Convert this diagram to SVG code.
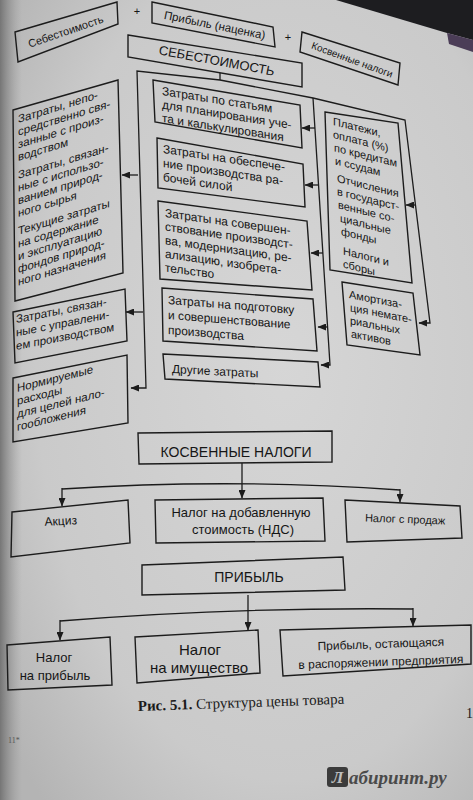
<svg xmlns="http://www.w3.org/2000/svg" width="473" height="800" viewBox="0 0 473 800">
<defs>
<radialGradient id="pg" cx="0.6" cy="0.45" r="0.75">
<stop offset="0" stop-color="#d6d6d6"/>
<stop offset="0.7" stop-color="#cacaca"/>
<stop offset="1" stop-color="#b4b4b4"/>
</radialGradient>
<linearGradient id="gut" x1="0" y1="0" x2="1" y2="0">
<stop offset="0" stop-color="#6e6e6e" stop-opacity="0.9"/>
<stop offset="1" stop-color="#9a9a9a" stop-opacity="0"/>
</linearGradient>
<marker id="ah" markerWidth="9" markerHeight="7" refX="8" refY="3.5" orient="auto" markerUnits="userSpaceOnUse">
<path d="M0,0 L8.5,3.5 L0,7 z" fill="#1c1c1c"/>
</marker>
<style>
.bx{fill:none;stroke:#1c1c1c;stroke-width:1.4;stroke-linejoin:miter}
.ln{fill:none;stroke:#1c1c1c;stroke-width:1.3}
.ar{fill:none;stroke:#1c1c1c;stroke-width:1.3;marker-end:url(#ah)}
.t{font-family:"Liberation Sans",Arial,sans-serif;fill:#161616}
.s11{font-size:11px}
.s115{font-size:11.5px}
.s12{font-size:12px}
.s13{font-size:13px}
.s14{font-size:14px}
.s15{font-size:15px}
.c{text-anchor:middle}
.cap{font-family:"Liberation Serif","Times New Roman",serif;fill:#1a1a1a;font-size:15px}
</style>
</defs>
<!-- page -->
<rect x="0" y="0" width="473" height="800" fill="url(#pg)"/>
<rect x="0" y="0" width="22" height="800" fill="url(#gut)"/>
<polygon points="336,0 473,0 473,40 447,33" fill="#1d1d20"/>
<polygon points="447,33 473,40 473,52 449,44" fill="#4b3d57"/>

<!-- top row -->
<g id="top-sebest">
<polygon class="bx" points="15,32 117,2 118,24 18,62"/>
<text class="t s11 c" x="67" y="35" transform="rotate(-19 67 35)">Себестоимость</text>
</g>
<text class="t s11 c" x="137" y="15">+</text>
<g id="top-pribyl">
<polygon class="bx" points="152,2 273,27 275,47 152,23"/>
<text class="t s115 c" x="214" y="29" transform="rotate(11.5 214 29)">Прибыль (наценка)</text>
</g>
<text class="t s11 c" x="288" y="41">+</text>
<g id="top-kosv">
<polygon class="bx" points="302,32 400,63 398,85 300,52"/>
<text class="t c" style="font-size:10px" x="351" y="63" transform="rotate(20 351 63)">Косвенные налоги</text>
</g>

<g id="sebestoimost">
<polygon class="bx" points="128,35 302,63 302,87 128,57"/>
<text class="t s13 c" x="216" y="65" transform="rotate(10.5 216 65)">СЕБЕСТОИМОСТЬ</text>
</g>

<!-- middle column -->
<g id="m1">
<polygon class="bx" points="153,80 300,105 302,148 155,122"/>
<g transform="translate(162,95) skewY(9)"><text class="t s12"><tspan x="0" y="0">Затраты по статьям</tspan><tspan x="0" y="13.5">для планирования уче-</tspan><tspan x="0" y="27">та и калькулирования</tspan></text></g>
</g>
<g id="m2">
<polygon class="bx" points="157,138 303,164 305,207 158,188"/>
<g transform="translate(163,153) skewY(8.5)"><text class="t s12"><tspan x="0" y="0">Затраты на обеспече-</tspan><tspan x="0" y="14">ние производства ра-</tspan><tspan x="0" y="28">бочей силой</tspan></text></g>
</g>
<g id="m3">
<polygon class="bx" points="158,201 307,221 312,290 160,279"/>
<g transform="translate(165,217) skewY(8)"><text class="t s12"><tspan x="0" y="0">Затраты на совершен-</tspan><tspan x="0" y="13.6">ствование производст-</tspan><tspan x="0" y="27.2">ва, модернизацию, ре-</tspan><tspan x="0" y="40.8">ализацию, изобрета-</tspan><tspan x="0" y="54.4">тельство</tspan></text></g>
</g>
<g id="m4">
<polygon class="bx" points="162,288 313,299 317,351 163,341"/>
<g transform="translate(168,304) skewY(4.5)"><text class="t s12"><tspan x="0" y="0">Затраты на подготовку</tspan><tspan x="0" y="15">и совершенствование</tspan><tspan x="0" y="30">производства</tspan></text></g>
</g>
<g id="m5">
<polygon class="bx" points="163,354 318,362 320,387 165,379"/>
<g transform="translate(172,373) skewY(3)"><text class="t s12" x="0" y="0">Другие затраты</text></g>
</g>

<!-- right column -->
<g id="r1">
<polygon class="bx" points="325,112 398,123 412,283 330,270"/>
<g transform="translate(333,125) skewY(14)"><text class="t s11"><tspan x="0" y="0">Платежи,</tspan><tspan x="0" y="13">оплата (%)</tspan><tspan x="1" y="26">по кредитам</tspan><tspan x="2" y="39">и ссудам</tspan><tspan x="4" y="56">Отчисления</tspan><tspan x="4" y="69">в государст-</tspan><tspan x="5" y="82">венные со-</tspan><tspan x="7" y="95">циальные</tspan><tspan x="8" y="108">фонды</tspan><tspan x="10" y="127">Налоги и</tspan><tspan x="10" y="140">сборы</tspan></text></g>
</g>
<g id="r2">
<polygon class="bx" points="342,282 413,293 420,355 347,345"/>
<g transform="translate(349,298) skewY(11)"><text class="t s11"><tspan x="0" y="0">Амортиза-</tspan><tspan x="1" y="13">ция немате-</tspan><tspan x="1" y="26">риальных</tspan><tspan x="2" y="39">активов</tspan></text></g>
</g>

<!-- left column -->
<g id="l1">
<polygon class="bx" points="13,110 118,80 123,273 15,301"/>
<g transform="translate(18,123) skewY(-17)"><text class="t s115"><tspan x="0" y="0">Затраты, непо-</tspan><tspan x="0" y="12.7">средственно свя-</tspan><tspan x="0" y="25.4">занные с произ-</tspan><tspan x="0" y="38.1">водством</tspan><tspan x="0" y="56">Затраты, связан-</tspan><tspan x="0" y="68.7">ные с использо-</tspan><tspan x="0" y="81.4">ванием природ-</tspan><tspan x="0" y="94.1">ного сырья</tspan><tspan x="0" y="112">Текущие затраты</tspan><tspan x="0" y="124.7">на содержание</tspan><tspan x="0" y="137.4">и эксплуатацию</tspan><tspan x="0" y="150.1">фондов природ-</tspan><tspan x="0" y="162.8">ного назначения</tspan></text></g>
</g>
<g id="l2">
<polygon class="bx" points="13,312 125,289 127,341 15,363"/>
<g transform="translate(16,323) skewY(-11)"><text class="t s115"><tspan x="0" y="0">Затраты, связан-</tspan><tspan x="0" y="13.5">ные с управлени-</tspan><tspan x="0" y="27">ем производством</tspan></text></g>
</g>
<g id="l3">
<polygon class="bx" points="13,378 127,355 128,423 13,442"/>
<g transform="translate(17,392) skewY(-14)"><text class="t s115"><tspan x="0" y="0">Нормируемые</tspan><tspan x="0" y="13">расходы</tspan><tspan x="0" y="26">для целей нало-</tspan><tspan x="0" y="39">гообложения</tspan></text></g>
</g>

<!-- lower part -->
<g id="kosv">
<polygon class="bx" points="138,433 332,431 332,462 139,464"/>
<text class="t s14 c" x="236" y="457">КОСВЕННЫЕ  НАЛОГИ</text>
</g>
<g id="akciz">
<polygon class="bx" points="12,512 128,500 130,543 11,557"/>
<text class="t s12 c" x="61" y="525" transform="rotate(-3 61 525)">Акциз</text>
</g>
<g id="nds">
<polygon class="bx" points="155,500 323,498 325,541 156,543"/>
<text class="t s13 c" x="241" y="517">Налог на добавленную</text>
<text class="t s13 c" x="243" y="534">стоимость (НДС)</text>
</g>
<g id="prodazh">
<polygon class="bx" points="345,500 460,506 462,538 347,542"/>
<text class="t s11 c" x="405" y="523" transform="rotate(2 405 523)">Налог с продаж</text>
</g>
<g id="pribyl">
<polygon class="bx" points="142,565 343,557 345,590 142,595"/>
<text class="t s14 c" x="249" y="582">ПРИБЫЛЬ</text>
</g>
<g id="p1">
<polygon class="bx" points="7,645 110,637 112,685 8,690"/>
<text class="t s13 c" x="54" y="662">Налог</text>
<text class="t s13 c" x="55" y="680">на прибыль</text>
</g>
<g id="p2">
<polygon class="bx" points="135,637 258,630 260,673 137,683"/>
<text class="t s15 c" x="200" y="655">Налог</text>
<text class="t s15 c" x="199" y="673">на имущество</text>
</g>
<g id="p3">
<polygon class="bx" points="280,630 471,625 471,664 283,676"/>
<text class="t s12 c" x="381" y="648" transform="rotate(-2 381 648)">Прибыль, остающаяся</text>
<text class="t s12 c" x="381" y="666" transform="rotate(-2 381 666)">в распоряжении предприятия</text>
</g>

<!-- connectors -->
<g id="connectors">
<path class="ln" d="M220,73 L220,80"/>
<path class="ar" d="M220,80 L137,71 L146,388 L131,388"/>
<path class="ar" d="M138,175 L122,175"/>
<path class="ar" d="M143,312 L126,312"/>
<path class="ar" d="M220,80 L313,98 L405,120 L430,323 L419,323"/>
<path class="ar" d="M415,205 L406,205"/>
<path class="ar" d="M313,98 L330,365 L321,365"/>
<path class="ar" d="M315,128 L302,128"/>
<path class="ar" d="M318,185 L305,185"/>
<path class="ar" d="M323,253 L311,253"/>
<path class="ar" d="M328,327 L318,327"/>
<path class="ar" d="M242,463 L242,498"/>
<path class="ln" d="M62,489 Q231,478 400,490"/>
<path class="ar" d="M62,488 L62,506"/>
<path class="ar" d="M400,489 L400,502"/>
<path class="ar" d="M248,595 L248,630"/>
<path class="ln" d="M60,621 Q236,607 413,609"/>
<path class="ar" d="M60,620 L60,640"/>
<path class="ar" d="M413,608 L413,626"/>
</g>

<!-- caption and page marks -->
<text class="cap" x="138" y="711" transform="rotate(-2 138 711)"><tspan font-weight="bold">Рис. 5.1.</tspan> Структура цены товара</text>
<text class="cap" style="font-size:14px" x="466" y="718">1</text>
<text class="cap" style="font-size:8px;fill:#555" x="8" y="743">11*</text>
<g id="watermark">
<rect x="327" y="767" width="21" height="20" rx="3" fill="#3b3b3b"/>
<text x="337.5" y="783" text-anchor="middle" style="font-family:'Liberation Serif',serif;font-style:italic;font-weight:bold;font-size:17px;fill:#bdbdbd">Л</text>
<text x="349" y="784" style="font-family:'Liberation Serif',serif;font-style:italic;font-weight:bold;font-size:19px;fill:#4a4a4a">абиринт.ру</text>
</g>
</svg>
